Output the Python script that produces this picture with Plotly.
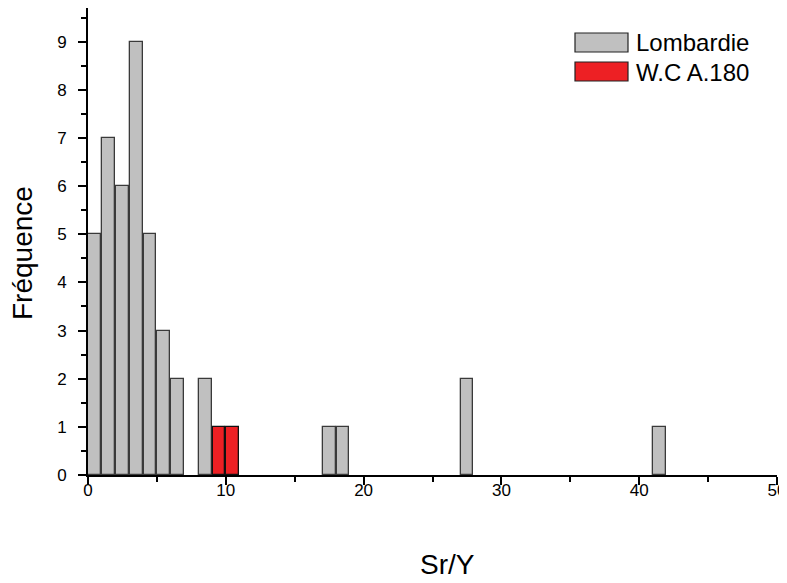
import plotly.graph_objects as go

# Histogram bins (bin centres, width 1) and counts
lomb_x = [0.5, 1.5, 2.5, 3.5, 4.5, 5.5, 6.5, 8.5, 17.5, 18.5, 27.5, 41.5]
lomb_y = [5, 7, 6, 9, 5, 3, 2, 2, 1, 1, 2, 1]
wc_x = [9.5, 10.5]
wc_y = [1, 1]
series_names = ["Lombardie", "W.C A.180"]
x_ticks = [0, 10, 20, 30, 40, 50]
y_ticks = [0, 1, 2, 3, 4, 5, 6, 7, 8, 9]

GRAY = "#C0C0C0"
RED = "#ED2024"
FONT = "Liberation Sans, Arial, sans-serif"

fig = go.Figure()
fig.add_trace(go.Bar(x=lomb_x, y=lomb_y, width=0.93, name=series_names[0],
                     marker=dict(color=GRAY, line=dict(color="#3a3a3a", width=1.3))))
fig.add_trace(go.Bar(x=wc_x, y=wc_y, width=0.93, name=series_names[1],
                     marker=dict(color=RED, line=dict(color="#111111", width=1.3))))

# page body has an 8px margin: figure coordinates = screen coordinates - 8
OFF = 8
W, H = 787 - OFF, 583 - OFF
L, T = 88 - OFF, 8 - OFF
R = W - (777 - OFF)
B = H - (475 - OFF)
pw = W - L - R
ph = H - T - B

def px(x):
    return (x - OFF - L) / pw

def py(y):
    return (H - B - (y - OFF)) / ph

shapes = [
    dict(type="rect", xref="paper", yref="paper", x0=px(575), x1=px(628), y0=py(52), y1=py(33),
         fillcolor=GRAY, line=dict(color="#222222", width=1.2)),
    dict(type="rect", xref="paper", yref="paper", x0=px(575), x1=px(628), y0=py(81), y1=py(62),
         fillcolor=RED, line=dict(color="#222222", width=1.2)),
]
annotations = [
    dict(text=series_names[0], xref="paper", yref="paper", x=px(634), y=py(42), xanchor="left",
         yanchor="middle", showarrow=False, font=dict(family=FONT, size=24, color="black")),
    dict(text=series_names[1], xref="paper", yref="paper", x=px(634), y=py(72), xanchor="left",
         yanchor="middle", showarrow=False, font=dict(family=FONT, size=24, color="black")),
    dict(text="Fréquence", xref="paper", yref="paper", x=px(23), y=py(253), textangle=-90,
         xanchor="center", yanchor="middle", showarrow=False,
         font=dict(family=FONT, size=28, color="black")),
    dict(text="Sr/Y", xref="paper", yref="paper", x=px(447), y=py(564),
         xanchor="center", yanchor="middle", showarrow=False,
         font=dict(family=FONT, size=28, color="black")),
]

fig.update_layout(
    width=W, height=H,
    margin=dict(l=L, r=R, t=T, b=B, pad=0),
    paper_bgcolor="white", plot_bgcolor="white",
    barmode="overlay", bargap=0,
    showlegend=False,
    shapes=shapes, annotations=annotations,
    font=dict(family=FONT, size=17, color="black"),
)
fig.update_xaxes(range=[0, 50], tickvals=x_ticks, ticktext=[str(v) for v in x_ticks],
                 showgrid=False, zeroline=False, showline=True, linecolor="black", linewidth=2,
                 ticks="outside", ticklen=8, tickwidth=2, tickcolor="black",
                 minor=dict(dtick=5, ticks="outside", ticklen=5, tickwidth=2, tickcolor="black"),
                 tickfont=dict(family=FONT, size=17), ticklabelstandoff=-9, automargin=False)
fig.update_yaxes(range=[0, 9.7], tickvals=y_ticks, ticktext=[str(v) for v in y_ticks],
                 showgrid=False, zeroline=False, showline=True, linecolor="black", linewidth=2,
                 ticks="outside", ticklen=8, tickwidth=2, tickcolor="black",
                 minor=dict(dtick=0.5, tick0=0, ticks="outside", ticklen=5, tickwidth=2, tickcolor="black"),
                 tickfont=dict(family=FONT, size=17), ticklabelstandoff=8, automargin=False)

fig.write_html("out.html")
